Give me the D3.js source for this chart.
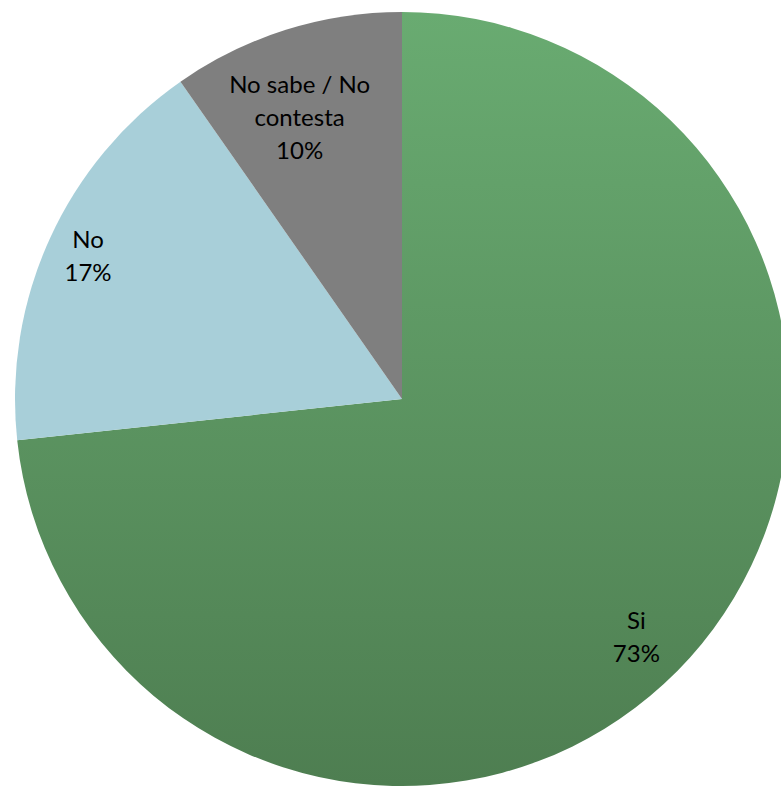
<!DOCTYPE html>
<html>
<head>
<meta charset="utf-8">
<script src="https://cdn.jsdelivr.net/npm/d3@7"></script>
<style>
html,body{margin:0;padding:0;background:#fff;overflow:hidden;}
svg{display:block;}
</style>
</head>
<body>
<svg id="chart" width="781" height="786"></svg>
<script>
// Data
const categories = ["Si", "No", "No sabe / No contesta"];
const labelLines = [["Si"], ["No"], ["No sabe / No", "contesta"]];
const values = [73.3, 17.0, 9.7];
const percentLabels = ["73%", "17%", "10%"];

// Layout / style
const W = 781, H = 786;
const cx = 402, cy = 399, R = 387;
const labelRadius = [334, 345, 300];
const labelAngleShift = [3.5, 0, -2.5]; // degrees
const fontSize = 24, lineH = 33;

const svg = d3.select("#chart");
const defs = svg.append("defs");
const grad = defs.append("linearGradient").attr("id", "gGreen")
  .attr("gradientUnits", "userSpaceOnUse")
  .attr("x1", 0).attr("y1", cy - R).attr("x2", 0).attr("y2", cy + R);
grad.append("stop").attr("offset", "0%").attr("stop-color", "#69ab71");
grad.append("stop").attr("offset", "100%").attr("stop-color", "#4e7e51");

const fills = ["url(#gGreen)", "#a8cfd9", "#7f7f7f"];

const data = categories.map((c, i) => ({cat: c, value: values[i], lines: labelLines[i].concat([percentLabels[i]]), i}));

const pie = d3.pie().value(d => d.value).sort(null).startAngle(0).endAngle(2 * Math.PI);
const arcs = pie(data);
const arc = d3.arc().innerRadius(0).outerRadius(R);

const g = svg.append("g").attr("transform", `translate(${cx},${cy})`);
g.selectAll("path.slice").data(arcs).enter().append("path")
  .attr("class", "slice")
  .attr("d", arc)
  .attr("fill", d => fills[d.data.i])
  .attr("transform", `translate(0,0)`);

// fix gradient coordinates relative to group: gradient uses userSpaceOnUse in group coords
grad.attr("y1", -R).attr("y2", R);

const labels = g.selectAll("g.lbl").data(arcs).enter().append("g").attr("class", "lbl")
  .attr("transform", d => {
    const a = (d.startAngle + d.endAngle) / 2 + labelAngleShift[d.data.i] * Math.PI / 180;
    const r = labelRadius[d.data.i];
    return `translate(${r * Math.sin(a)},${-r * Math.cos(a)})`;
  });

labels.each(function(d) {
  const sel = d3.select(this);
  const n = d.data.lines.length;
  d.data.lines.forEach((t, k) => {
    sel.append("text")
      .attr("x", 0)
      .attr("y", (k - (n - 1) / 2) * lineH + 8.5)
      .attr("text-anchor", "middle")
      .attr("font-family", "Lato, 'Open Sans', sans-serif")
      .attr("font-size", fontSize)
      .attr("fill", "#000")
      .text(t);
  });
});
</script>
</body>
</html>
